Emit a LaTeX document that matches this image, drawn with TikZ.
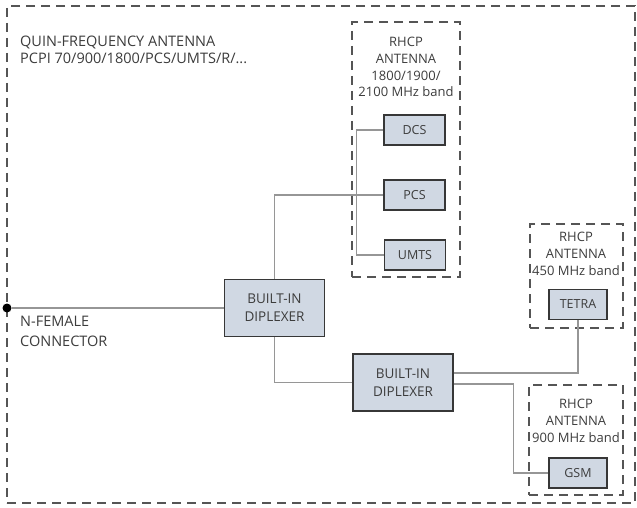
\documentclass[tikz,border=0pt]{standalone}
\usepackage{fontspec}
\setmainfont{Open Sans}
\usepackage{tikz}
\usetikzlibrary{arrows.meta}
\definecolor{boxfill}{RGB}{208,216,227}
\definecolor{boxedge}{RGB}{55,55,55}
\definecolor{frameedge}{RGB}{85,85,85}
\definecolor{wiregray}{RGB}{150,150,150}
\definecolor{txt}{RGB}{60,60,60}
\tikzset{
	block/.style={draw=boxedge, line width=1.6pt, fill=boxfill, text=txt, minimum width=61pt, minimum height=30pt, inner sep=0pt, font=\fontsize{12.5}{14}\selectfont},
	dipl/.style={block, minimum width=100pt, minimum height=57pt, align=center, font=\fontsize{13.5}{18}\selectfont},
	frame/.style={draw=frameedge, line width=1.8pt, dash pattern=on 9pt off 6pt, inner sep=0pt},
	wire/.style={draw=wiregray, line width=1.3pt},
	lbl/.style={text=txt, inner sep=0pt, font=\fontsize{13}{16.8}\selectfont}
}
\begin{document}
\begin{tikzpicture}[x=1pt, y=-1pt]
				\useasboundingbox (0,0) rectangle (637,508);
				% Frames:
				\node[frame, minimum width=628pt, minimum height=497pt] (outer) at (321,254.5){};
				\node[frame, minimum width=108pt, minimum height=255pt] (bandA) at (406,149.5){};
				\node[frame, minimum width=93pt, minimum height=104pt] (bandB) at (576.5,276){};
				\node[frame, minimum width=94pt, minimum height=110pt] (bandC) at (576,440){};
				% Texts:
				\node[lbl, anchor=north west, align=left, font=\fontsize{14.5}{17}\selectfont] (title) at (20,36){QUIN-FREQUENCY ANTENNA\\PCPI 70/900/1800/PCS/UMTS/R/...};
				\node[lbl, anchor=north west, align=left, font=\fontsize{14.5}{20}\selectfont] (nfem) at (20,316){N-FEMALE\\CONNECTOR};
				\node[lbl, align=center] (bandAtxt) at (406,67){RHCP\\ANTENNA\\1800/1900/\\2100 MHz band};
				\node[lbl, align=center] (bandBtxt) at (576,254){RHCP\\ANTENNA\\450 MHz band};
				\node[lbl, align=center] (bandCtxt) at (576,421){RHCP\\ANTENNA\\900 MHz band};
				% Blocks:
				\node[block] (DCS) at (414.5,130){DCS};
				\node[block] (PCS) at (414.5,195){PCS};
				\node[block] (UMTS) at (415,255){UMTS};
				\node[block, minimum width=58pt] (TETRA) at (578,304.5){TETRA};
				\node[block, minimum width=58pt] (GSM) at (578,473){GSM};
				\node[dipl] (D1) at (274.5,308){BUILT-IN\\DIPLEXER};
				\node[dipl] (D2) at (403,382.5){BUILT-IN\\DIPLEXER};
				\node[circle, fill=black, minimum size=9pt, inner sep=0pt] (NF) at (7,308){};
				% Wires:
				\draw[wire] (NF) -- (D1.west);
				\draw[wire] (D1.north) |- (PCS.west);
				\draw[wire] (DCS.west) -- ++(-27,0) |- (UMTS.west);
				\draw[wire] (D1.south) |- (D2.west);
				\draw[wire] ([yshift=9.5pt]D2.east) -| (TETRA.south);
				\draw[wire] ([yshift=-1.5pt]D2.east) -- ++(60,0) |- (GSM.west);
\end{tikzpicture}
\end{document}
